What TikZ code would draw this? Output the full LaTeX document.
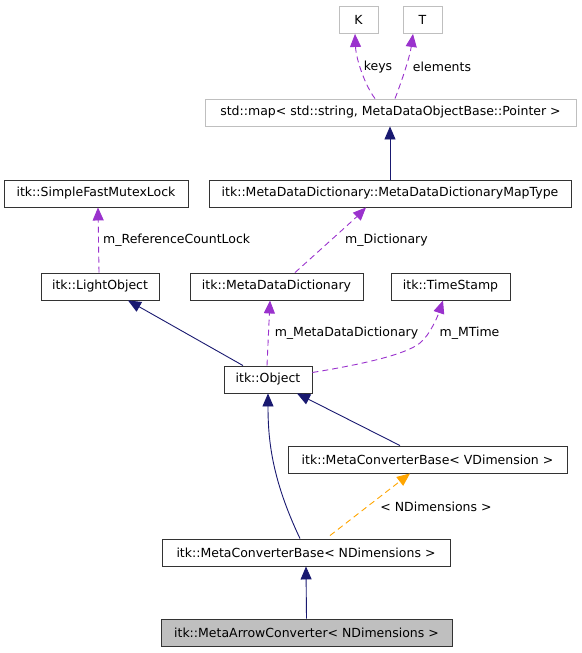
\documentclass[tikz,border=0pt]{standalone}
\usepackage{fontspec}
\setmainfont{DejaVu Sans}
\usetikzlibrary{arrows.meta}
\definecolor{navy}{HTML}{191970}
\definecolor{orchid}{HTML}{9A32CD}
\definecolor{orng}{HTML}{FFA500}
\definecolor{lgray}{HTML}{BFBFBF}
\begin{document}
\begin{tikzpicture}[x=1pt,y=-1pt,
  font=\fontsize{12.5}{14}\selectfont,
  box/.style={draw=black!80,line width=0.9pt,minimum height=27pt,inner sep=0pt,anchor=center},
  ext/.style={box,draw=lgray},
  lbl/.style={inner sep=0pt,anchor=center},
  tip/.style={-{Triangle[length=13pt,width=11pt]}},
  inh/.style={tip,draw=navy,line width=0.9pt},
  use/.style={tip,draw=orchid,line width=0.9pt,dash pattern=on 6pt off 4pt},
  tmpl/.style={tip,draw=orng,line width=0.9pt,dash pattern=on 6pt off 4pt}]
\useasboundingbox (0,0) rectangle (581,653);
% nodes
\node[ext,minimum width=39pt] (K) at (358.5,20) {K};
\node[ext,minimum width=39pt] (T) at (422.5,20) {T};
\node[ext,minimum width=371pt] (map) at (390.5,112.5) {std::map\textless{} std::string, MetaDataObjectBase::Pointer \textgreater{}};
\node[box,minimum width=362pt] (mt) at (390,193.5) {itk::MetaDataDictionary::MetaDataDictionaryMapType};
\node[box,minimum width=184pt] (sfml) at (96,193.5) {itk::SimpleFastMutexLock};
\node[box,minimum width=118pt] (lo) at (100,286.5) {itk::LightObject};
\node[box,minimum width=173pt] (mdd) at (276.5,286.5) {itk::MetaDataDictionary};
\node[box,minimum width=119pt] (ts) at (450.5,286.5) {itk::TimeStamp};
\node[box,minimum width=88pt] (obj) at (268,379.5) {itk::Object};
\node[box,minimum width=279pt] (vd) at (427.5,459.5) {itk::MetaConverterBase\textless{} VDimension \textgreater{}};
\node[box,minimum width=288pt] (nd) at (306,552.5) {itk::MetaConverterBase\textless{} NDimensions \textgreater{}};
\node[box,minimum width=291pt,fill=lgray] (mac) at (306.5,632.5) {itk::MetaArrowConverter\textless{} NDimensions \textgreater{}};
% labels
\node[lbl] (lkeys) at (378,67) {keys};
\node[lbl] (lelem) at (442,67) {elements};
\node[lbl,anchor=west] (lrcl) at (103,240) {m\_ReferenceCountLock};
\node[lbl] (ldict) at (386.5,240) {m\_Dictionary};
\node[lbl] (lmdd) at (346.5,333) {m\_MetaDataDictionary};
\node[lbl] (lmt) at (469.5,333) {m\_MTime};
\node[lbl] (lnd) at (436,507) {\textless{} NDimensions \textgreater{}};
% edges
\draw[use] ([xshift=-15.5pt]map.north) .. controls +(-10,-13) and +(1,25) .. ([xshift=-3.5pt]K.south);
\draw[use] ([xshift=4.5pt]map.north) .. controls +(7,-18) and +(-3,22) .. ([xshift=-9.5pt]T.south);
\draw[inh] (mt.north) -- ([xshift=-0.5pt]map.south);
\draw[use] ([xshift=-1pt]lo.north) -- ([xshift=2pt]sfml.south);
\draw[use] ([xshift=18.5pt]mdd.north) .. controls +(20,-18) and +(-12,12) .. ([xshift=-24pt]mt.south);
\draw[inh] ([xshift=-25pt]obj.north) -- ([xshift=28pt]lo.south);
\draw[use] ([xshift=-1pt]obj.north) -- ([xshift=-6.5pt]mdd.south);
\draw[use] ([yshift=7pt]obj.east) .. controls +(48,-8) and +(-15,12) .. (420,343) .. controls +(10,-8) and +(-5,15) .. ([xshift=-7.5pt]ts.south);
\draw[inh] ([xshift=-27.5pt]vd.north) -- ([xshift=29pt]obj.south);
\draw[inh] ([xshift=-6pt]nd.north) .. controls +(-28,-59) and +(0,47) .. (obj.south);
\draw[tmpl] ([xshift=24pt,yshift=3pt]nd.north) -- ([xshift=-17.5pt]vd.south);
\draw[inh] (mac.north) -- (nd.south);
\end{tikzpicture}
\end{document}
